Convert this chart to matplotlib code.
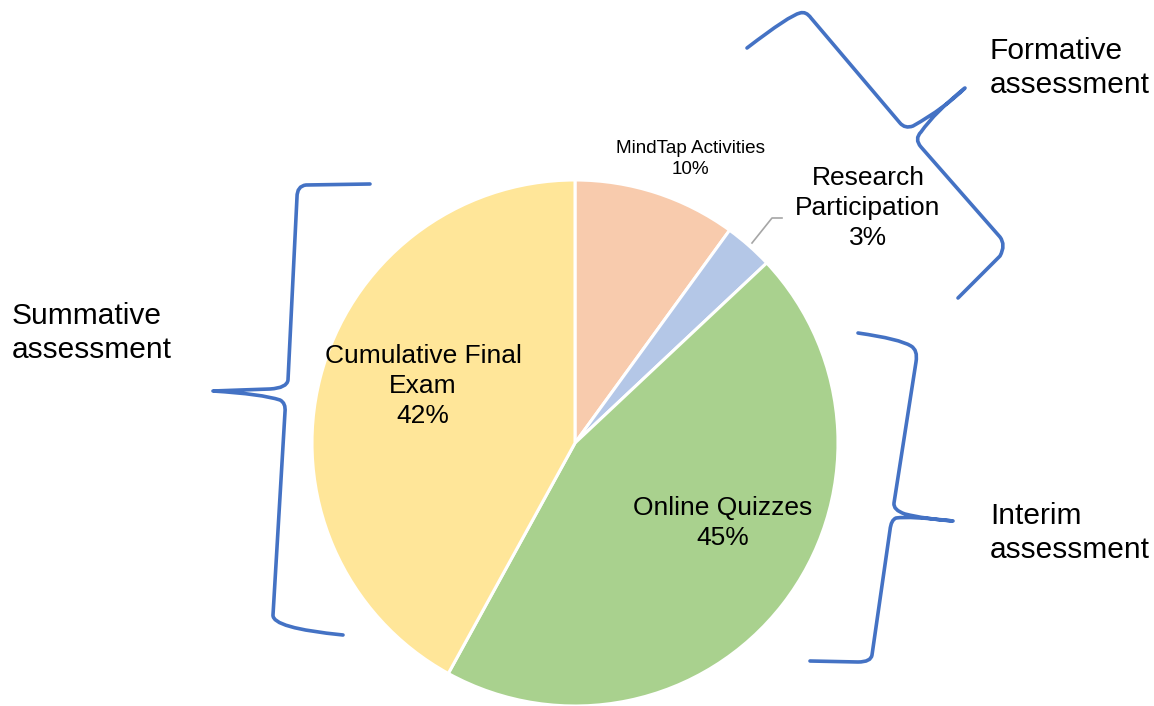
import matplotlib.pyplot as plt
from matplotlib.path import Path
from matplotlib.patches import PathPatch

plt.rcParams['font.family'] = ['Liberation Sans', 'DejaVu Sans']

# data
categories = ['MindTap Activities', 'Research Participation', 'Online Quizzes', 'Cumulative Final Exam']
shares = [10, 3, 45, 42]
colors = ['#F8CBAD', '#B4C7E7', '#A9D18E', '#FFE699']
groups = ['Formative\nassessment', 'Interim\nassessment', 'Summative\nassessment']

W, H = 1154, 706
fig = plt.figure(figsize=(W / 100, H / 100), dpi=100)
ax = fig.add_axes([0, 0, 1, 1])


def iy(y):
    # image y (top-down) -> axes y (bottom-up)
    return H - y


cx, cy, r = 575, iy(443), 263
ax.pie(shares, colors=colors, startangle=90, counterclock=False,
       center=(cx, cy), radius=r,
       wedgeprops=dict(edgecolor='white', linewidth=2.2))
ax.set_xlim(0, W)
ax.set_ylim(0, H)
ax.set_aspect('auto')
ax.axis('off')

# slice labels
ax.text(690, iy(159), f'{categories[0]}\n{shares[0]}%', ha='center', va='center',
        fontsize=13.6, linespacing=1.27)
ax.text(868, iy(208), f'Research\nParticipation\n{shares[1]}%', ha='center', va='center',
        fontsize=19, linespacing=1.29)
ax.text(723, iy(523), f'{categories[2]}\n{shares[2]}%', ha='center', va='center',
        fontsize=19, linespacing=1.29)
ax.text(423, iy(386), f'Cumulative Final\nExam\n{shares[3]}%', ha='center', va='center',
        fontsize=19, linespacing=1.29)

# leader line for small slice
ax.plot([752, 772, 782], [iy(243), iy(218), iy(218)], color='#A6A6A6', lw=1.2)

# braces
blue = '#4472C4'
M, L, C = Path.MOVETO, Path.LINETO, Path.CURVE3
summative = [(M, (370, 184)), (L, (306, 185)), (C, (297, 186)), (C, (297, 197)),
             (L, (288, 380)), (C, (287, 388)), (C, (270, 389)), (C, (240, 390)), (C, (213, 391)),
             (C, (262, 394)), (C, (280, 400)), (C, (286, 403)), (C, (285, 412)),
             (L, (273, 615)), (C, (272, 628)), (C, (343, 635))]
interim = [(M, (858, 333)), (C, (900, 339)), (C, (911, 346)), (C, (918, 350)), (C, (916, 362)),
           (L, (894, 503)), (C, (893, 510)), (C, (905, 514)), (C, (925, 519)), (C, (953, 521)),
           (C, (910, 516)), (C, (896, 518)), (C, (891, 520)), (C, (890, 530)),
           (L, (872, 655)), (C, (871, 662)), (C, (858, 662)), (L, (810, 661))]
formative = [(M, (747, 48)), (C, (790, 15)), (C, (800, 13)), (C, (806, 11)), (C, (811, 18)),
             (L, (900, 123)), (C, (905, 129)), (C, (913, 126)), (C, (945, 108)), (C, (965, 88)),
             (C, (935, 112)), (C, (921, 132)), (C, (914, 139)), (C, (921, 147)),
             (L, (1000, 237)), (C, (1006, 245)), (C, (1000, 256)), (L, (958, 298))]
for segs in (summative, interim, formative):
    codes = [s[0] for s in segs]
    verts = [(s[1][0], iy(s[1][1])) for s in segs]
    ax.add_patch(PathPatch(Path(verts, codes), facecolor='none', edgecolor=blue,
                           lw=2.6, joinstyle='round', capstyle='round'))

# group labels
ax.text(990, iy(68), groups[0], ha='left', va='center', fontsize=21.5, linespacing=1.25)
ax.text(990, iy(533), groups[1], ha='left', va='center', fontsize=21.5, linespacing=1.25)
ax.text(12, iy(333), groups[2], ha='left', va='center', fontsize=21.5, linespacing=1.25)

plt.savefig('out.png', dpi=100)
